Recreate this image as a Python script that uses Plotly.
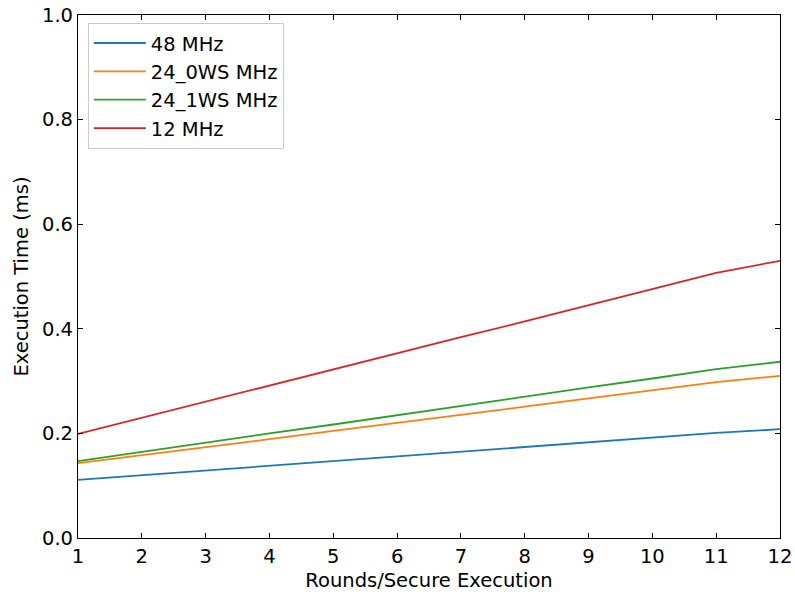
import plotly.graph_objects as go

rounds = [1, 2, 3, 4, 5, 6, 7, 8, 9, 10, 11, 12]
t_48 = [0.111, 0.120, 0.129, 0.138, 0.147, 0.156, 0.165, 0.174, 0.183, 0.192, 0.201, 0.208]
t_24_0ws = [0.143, 0.158, 0.174, 0.189, 0.205, 0.220, 0.236, 0.251, 0.267, 0.282, 0.298, 0.310]
t_24_1ws = [0.147, 0.165, 0.182, 0.200, 0.217, 0.235, 0.253, 0.270, 0.288, 0.305, 0.323, 0.337]
t_12 = [0.199, 0.230, 0.261, 0.291, 0.322, 0.353, 0.384, 0.414, 0.445, 0.476, 0.507, 0.530]

series = [
    ("48 MHz", t_48, "#1f77b4"),
    ("24_0WS MHz", t_24_0ws, "#ff7f0e"),
    ("24_1WS MHz", t_24_1ws, "#2ca02c"),
    ("12 MHz", t_12, "#d62728"),
]

font = "DejaVu Sans, Liberation Sans, sans-serif"
fs = 19.5

fig = go.Figure()
for i, (name, vals, color) in enumerate(series):
    fig.add_trace(go.Scatter(
        x=rounds, y=vals, mode="lines", name=name,
        line=dict(color=color, width=1.8),
        legendgroup=f"g{i}",
    ))

axis_common = dict(
    showline=True, linecolor="black", linewidth=1.2, mirror="ticks",
    ticks="inside", ticklen=5, tickwidth=1.2, tickcolor="black",
    showgrid=False, zeroline=False,
    tickfont=dict(family=font, size=fs, color="black"),
)

fig.update_layout(
    width=795, height=597,
    margin=dict(l=78, r=15, t=15, b=59, autoexpand=False),
    plot_bgcolor="white", paper_bgcolor="white",
    font=dict(family=font, size=fs, color="black"),
    xaxis=dict(range=[1, 12], tickmode="linear", tick0=1, dtick=1,
               title=dict(text="Rounds/Secure Execution", font=dict(size=fs), standoff=6),
               automargin=False, **axis_common),
    yaxis=dict(range=[0, 1.0], tickmode="linear", tick0=0, dtick=0.2, tickformat=".1f",
               title=dict(text="Execution Time (ms)", font=dict(size=fs), standoff=8),
               automargin=False, **axis_common),
    legend=dict(
        x=0.014, y=0.985, xanchor="left", yanchor="top",
        bgcolor="rgba(255,255,255,0.8)", bordercolor="#cccccc", borderwidth=1,
        font=dict(family=font, size=fs, color="black"),
        traceorder="grouped", tracegroupgap=0, itemwidth=52,
    ),
    showlegend=True,
)

fig.write_html("out.html")
